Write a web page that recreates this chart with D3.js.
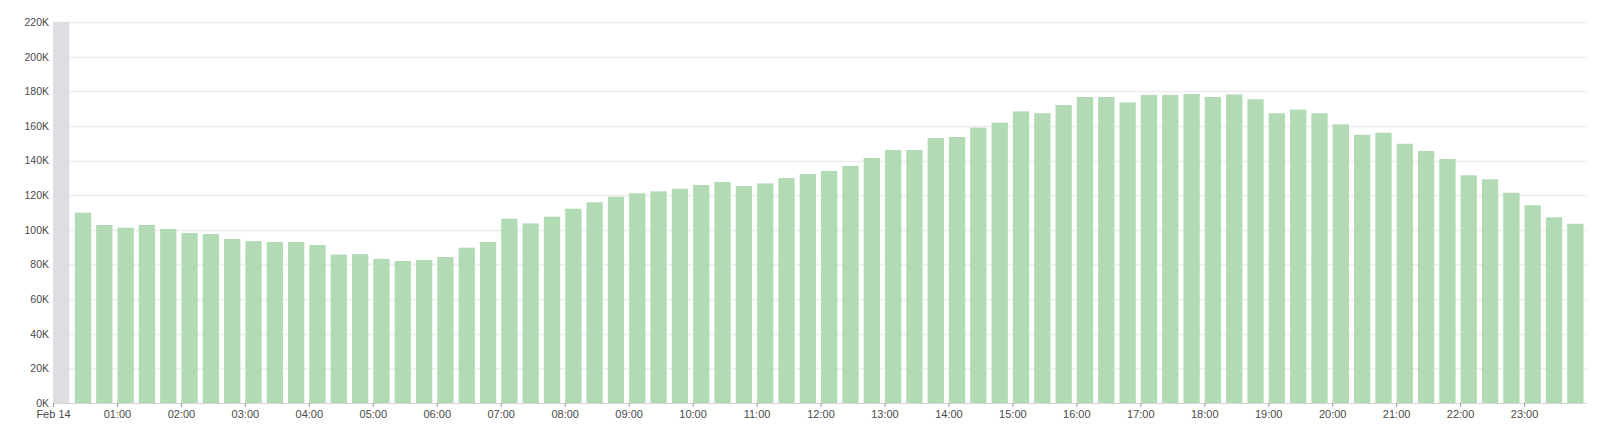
<!DOCTYPE html>
<html>
<head>
<meta charset="utf-8">
<script src="https://cdn.jsdelivr.net/npm/d3@7"></script>
<style>
  html, body { margin: 0; padding: 0; background: #fff; }
  svg { display: block; font-family: "Open Sans", "Noto Sans", sans-serif; }
</style>
</head>
<body>
<svg id="chart" width="1600" height="427"></svg>
<script>
// ---- data ----
const dayStart = "2024-02-14T00:00:00";
const dayEnd = "2024-02-15T00:00:00";
const bucketMinutes = 20;
// bucket 0 (00:00) is a partial bucket, drawn as a grey band
const partialBuckets = [0];
// values for buckets 00:20 ... 23:40
const values = [
  109900, 102800, 101200, 102800, 100500, 98200, 97600, 94700, 93500, 93000,
  93000, 91200, 85700, 86000, 83200, 82000, 82600, 84300, 89700, 93000,
  106400, 103700, 107600, 112200, 115900, 119100, 121100, 122200, 123700, 125900,
  127600, 125300, 126800, 129900, 132200, 134000, 136900, 141500, 146100, 146100,
  153000, 153600, 159000, 161900, 168400, 167300, 172100, 176700, 176700, 173600,
  177900, 177900, 178400, 176700, 178200, 175400, 167300, 169400, 167300, 160900,
  154900, 156100, 149700, 145500, 140900, 131500, 129200, 121400, 114200, 107200,
  103500
];
const yTicks = [0, 20000, 40000, 60000, 80000, 100000, 120000, 140000, 160000, 180000, 200000, 220000];
const yMax = 220000;

// ---- layout ----
const svg = d3.select("#chart");
const mLeft = 53, mRight = 1588, mTop = 22, mBottom = 403;
const t0 = new Date(dayStart), t1 = new Date(dayEnd);
const x = d3.scaleTime().domain([t0, t1]).range([mLeft, mRight]);
const y = d3.scaleLinear().domain([0, yMax]).range([mBottom, mTop]);

const buckets = d3.timeMinutes(t0, t1, bucketMinutes); // 72 bucket starts
const step = x(buckets[1]) - x(buckets[0]);
const barW = step - 5;

// gridlines
svg.append("g")
  .selectAll("line")
  .data(yTicks.filter(d => d > 0))
  .join("line")
  .attr("x1", mLeft).attr("x2", mRight - 1)
  .attr("y1", d => Math.round(y(d)) + 0.5).attr("y2", d => Math.round(y(d)) + 0.5)
  .attr("stroke", "#ececec").attr("stroke-width", 1.3);

// partial bucket band
svg.append("g")
  .selectAll("rect")
  .data(partialBuckets)
  .join("rect")
  .attr("x", i => x(buckets[i]))
  .attr("width", barW)
  .attr("y", y(yMax))
  .attr("height", y(0) - y(yMax))
  .attr("fill", "#dedde1");

// bars
const barData = values.map((v, i) => ({ t: buckets[i + 1], v }));
svg.append("g")
  .selectAll("rect")
  .data(barData)
  .join("rect")
  .attr("x", d => x(d.t) + 0.5)
  .attr("width", barW)
  .attr("y", d => y(d.v))
  .attr("height", d => y(0) - y(d.v))
  .attr("fill", "#b2dbb5");

// x axis
const xAxis = d3.axisBottom(x)
  .ticks(d3.timeHour.every(1))
  .tickSize(4)
  .tickPadding(3)
  .tickFormat(d => d.getHours() === 0 ? d3.timeFormat("%b %d")(d) : d3.timeFormat("%H:%M")(d));
const gx = svg.append("g").attr("transform", `translate(0,${mBottom})`).call(xAxis);
gx.select(".domain").attr("stroke", "#d6d6d6").attr("d", `M${mLeft},0.5H${mRight - 1}`);
gx.selectAll(".tick").filter(d => +d >= +t1).remove();
gx.selectAll(".tick line").attr("stroke", "#999");
gx.selectAll(".tick text").attr("fill", "#4a4a4a").style("font-size", "11px");

// y axis
const yAxis = d3.axisLeft(y)
  .tickValues(yTicks)
  .tickSize(0)
  .tickPadding(4)
  .tickFormat(d => (d / 1000) + "K");
const gy = svg.append("g").attr("transform", `translate(${mLeft},0)`).call(yAxis);
gy.select(".domain").remove();
gy.selectAll(".tick text").attr("fill", "#4a4a4a").style("font-size", "10.5px");
</script>
</body>
</html>
